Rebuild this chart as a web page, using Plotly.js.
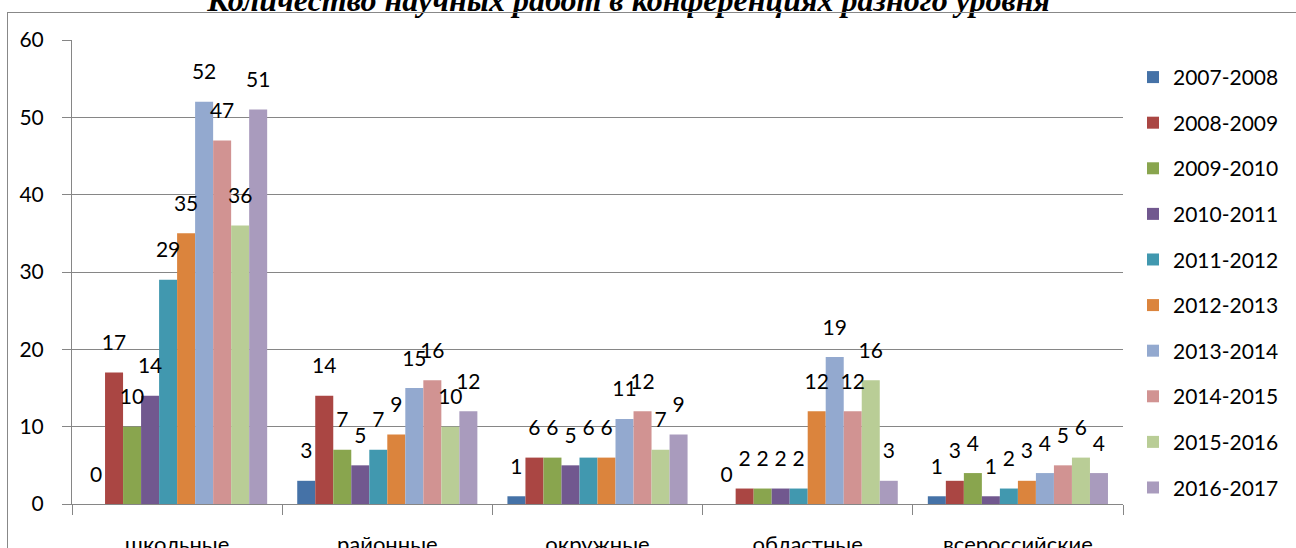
<!DOCTYPE html>
<html>
<head>
<meta charset="utf-8">
<script src="https://cdn.plot.ly/plotly-3.0.1.min.js"></script>
<style>
  html, body { margin: 0; padding: 0; background: #fff; overflow: hidden; }
  #chart { width: 1296px; height: 548px; position: relative; }
  #frame { position: absolute; left: 7px; top: 12px; width: 1400px; height: 700px;
           border: 1px solid #888; pointer-events: none; box-sizing: border-box; }
</style>
</head>
<body>
<div id="chart"></div>
<div id="frame"></div>
<script>
const titleText = 'Количество научных работ в конференциях разного уровня';
const categories = ['школьные', 'районные', 'окружные', 'областные', 'всероссийские'];
const seasons = ['2007-2008', '2008-2009', '2009-2010', '2010-2011', '2011-2012',
                 '2012-2013', '2013-2014', '2014-2015', '2015-2016', '2016-2017'];
const v2007_2008 = [0, 3, 1, 0, 1];
const v2008_2009 = [17, 14, 6, 2, 3];
const v2009_2010 = [10, 7, 6, 2, 4];
const v2010_2011 = [14, 5, 5, 2, 1];
const v2011_2012 = [29, 7, 6, 2, 2];
const v2012_2013 = [35, 9, 6, 12, 3];
const v2013_2014 = [52, 15, 11, 19, 4];
const v2014_2015 = [47, 16, 12, 12, 5];
const v2015_2016 = [36, 10, 7, 16, 6];
const v2016_2017 = [51, 12, 9, 3, 4];
const seriesValues = [v2007_2008, v2008_2009, v2009_2010, v2010_2011, v2011_2012,
                      v2012_2013, v2013_2014, v2014_2015, v2015_2016, v2016_2017];
const colors = ['#4572A7', '#AA4643', '#89A54E', '#71588F', '#4198AF',
                '#DB843D', '#93A9CF', '#D19392', '#B9CD96', '#A99BBD'];

const FONT = 'Lato, "Open Sans", sans-serif';
const GAP = 0.143;

const traces = [];
seasons.forEach((s, i) => {
  traces.push({
    type: 'bar', name: s, x: categories, y: seriesValues[i],
    marker: { color: colors[i] }, legendgroup: s,
    hoverinfo: 'x+y+name'
  });
});
seasons.forEach((s, i) => {
  traces.push({
    type: 'scatter', mode: 'markers+text', name: s, x: categories, y: seriesValues[i],
    text: seriesValues[i].map(String), textposition: 'top center',
    textfont: { family: FONT, size: 21, color: '#000' },
    marker: { size: 26, opacity: 0 }, showlegend: false, legendgroup: s,
    cliponaxis: false, hoverinfo: 'skip'
  });
});

const layout = {
  width: 1296, height: 548,
  margin: { l: 72, r: 173, t: 40, b: 44 },
  paper_bgcolor: 'rgba(0,0,0,0)', plot_bgcolor: '#fff',
  font: { family: FONT, size: 21, color: '#000' },
  title: {
    text: titleText, xref: 'container', x: 0.485, xanchor: 'center',
    yref: 'container', y: 1, yanchor: 'middle',
    font: { family: '"Liberation Serif", serif', size: 32, weight: 'bold', style: 'italic', color: '#000' }
  },
  barmode: 'group', bargap: GAP, bargroupgap: 0,
  scattermode: 'group', scattergap: GAP,
  xaxis: {
    type: 'category', showline: true, linecolor: '#868686', linewidth: 1,
    ticks: 'outside', tickson: 'boundaries', ticklen: 10, tickcolor: '#868686',
    ticklabelstandoff: 21, showgrid: false, tickfont: { family: FONT, size: 22 }
  },
  yaxis: {
    range: [0, 60], dtick: 10, tick0: 0, showline: true, linecolor: '#868686', linewidth: 1,
    ticks: 'outside', ticklen: 9, tickcolor: '#868686', ticklabelstandoff: 14,
    showgrid: true, gridcolor: '#868686', gridwidth: 1, zeroline: false,
    tickfont: { family: FONT, size: 21 }
  },
  legend: {
    x: 1.0095, xanchor: 'left', y: 0.9635, yanchor: 'top',
    traceorder: 'grouped', tracegroupgap: 15.3,
    font: { family: FONT, size: 21, color: '#000' },
    bgcolor: 'rgba(0,0,0,0)', borderwidth: 0
  },
  showlegend: true
};

Plotly.newPlot('chart', traces, layout, { displayModeBar: false, responsive: false });
</script>
</body>
</html>
